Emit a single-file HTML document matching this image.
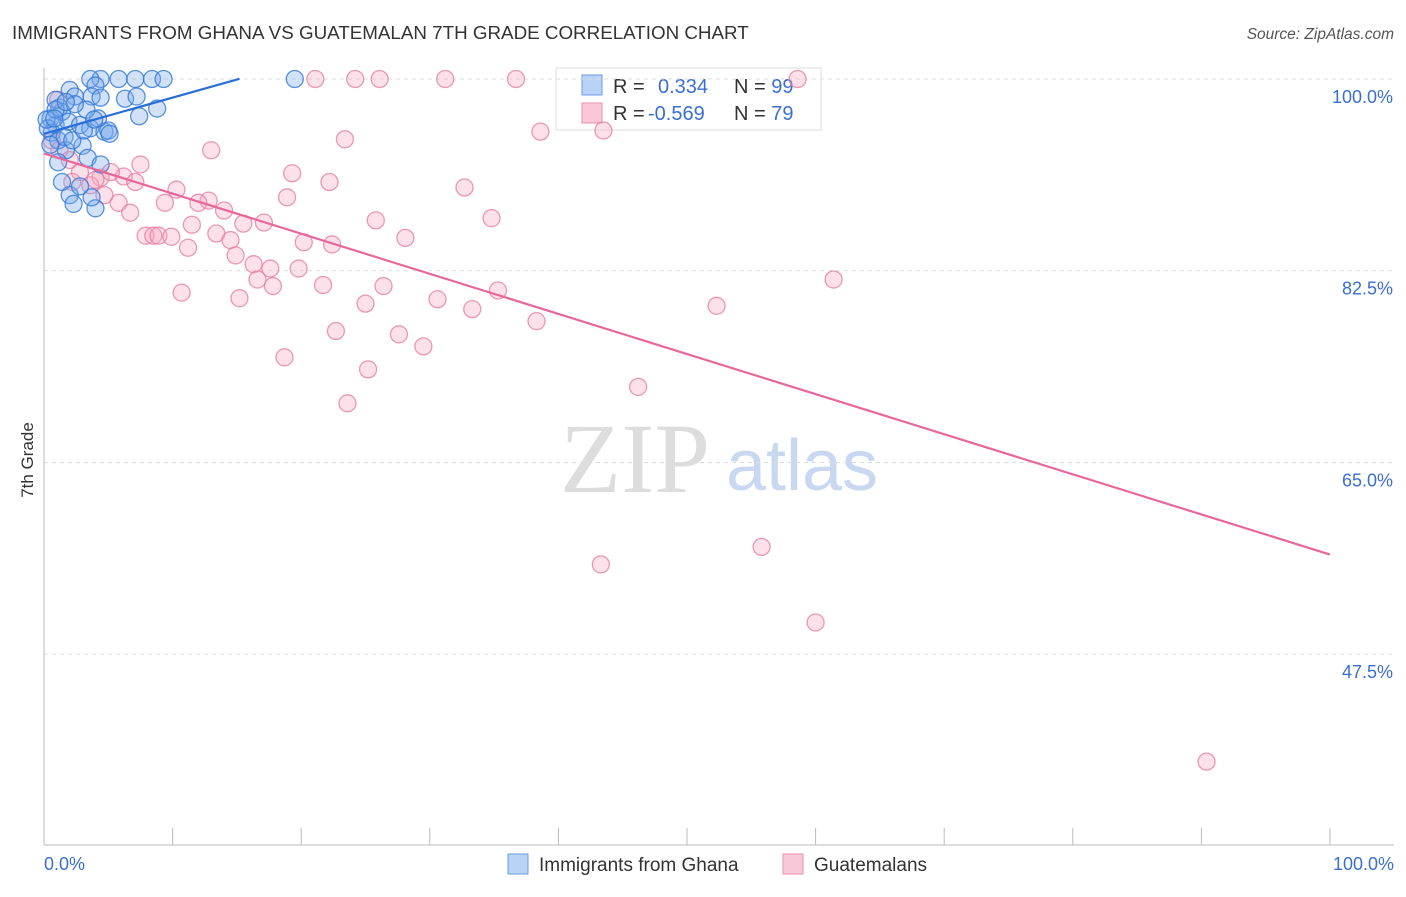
<!DOCTYPE html>
<html><head><meta charset="utf-8"><style>
body{margin:0;background:#fff;font-family:"Liberation Sans",sans-serif;}
</style></head><body>
<svg id="chart" width="1406" height="892" font-family="Liberation Sans, sans-serif">
<text x="12" y="39" font-size="18.8" fill="#333">IMMIGRANTS FROM GHANA VS GUATEMALAN 7TH GRADE CORRELATION CHART</text>
<text x="1394" y="39" font-size="15.5" fill="#555" font-style="italic" text-anchor="end">Source: ZipAtlas.com</text>
<text x="33" y="460" font-size="17" fill="#333" transform="rotate(-90 33 460)" text-anchor="middle">7th Grade</text>
<g><text x="635" y="492" font-size="100" fill="#ddd" text-anchor="middle" font-family="Liberation Serif, serif">ZIP</text><text x="802" y="490" font-size="72" fill="#c8d8f0" text-anchor="middle">atlas</text></g>
<g>
<rect x="556" y="68" width="265" height="62" fill="#fff" stroke="#ddd"/>
<rect x="582" y="75" width="20" height="20" fill="#b8d3f5" stroke="#6a9be0"/>
<rect x="582" y="103" width="20" height="20" fill="#f8c8d8" stroke="#e890b0"/>
<text x="613" y="93" font-size="20" fill="#333">R = <tspan fill="#3a6fd0" x="658">0.334</tspan><tspan fill="#333" x="734">N = </tspan><tspan fill="#3a6fd0">99</tspan></text>
<text x="613" y="120" font-size="20" fill="#333">R = <tspan fill="#3a6fd0" x="648">-0.569</tspan><tspan fill="#333" x="734">N = </tspan><tspan fill="#3a6fd0">79</tspan></text>
</g>
<g id="grid"></g><g id="pink"></g><g id="blue"></g><g id="lines"></g>
<g>
<rect x="508" y="854" width="20" height="20" fill="#b8d3f5" stroke="#6a9be0"/>
<text x="539" y="871" font-size="19" fill="#333">Immigrants from Ghana</text>
<rect x="783" y="854" width="20" height="20" fill="#f8c8d8" stroke="#e890b0"/>
<text x="814" y="871" font-size="19" fill="#333">Guatemalans</text>
</g>
<text x="44" y="870" font-size="18" fill="#3a6fd0">0.0%</text>
<text x="1394" y="870" font-size="18" fill="#3a6fd0" text-anchor="end">100.0%</text>
</svg>
<script>
const yTicks=[100,82.5,65,47.5];
const yTickLabels=["100.0%","82.5%","65.0%","47.5%"];
const blueX=[4.4,7.1,8.4,9.3,19.5,5.8,3.6,2.0,4.0,3.7,2.4,4.4,6.3,7.2,8.8,7.4,1.4,0.5,0.9,1.9,2.8,3.6,4.7,5.0,4.2,3.3,1.2,2.4,0.6,1.1,1.7,3.0,3.4,4.4,1.1,1.4,2.0,2.3,4.0,3.7,2.8,0.3,0.2,0.9,1.6,2.2,3.1,3.9,5.1,0.5,0.9,1.7,0.8];
const blueY=[100,100,100,100,100,100,100,99.0,99.4,98.4,98.4,98.3,98.2,98.4,97.3,96.6,97.0,96.4,95.8,96.1,95.8,95.5,95.2,95.3,96.4,97.2,97.4,97.7,95.1,94.4,93.5,93.9,92.8,92.2,92.4,90.6,89.4,88.6,88.2,89.2,90.2,95.5,96.3,98.1,94.7,94.4,95.3,96.3,95.0,94.0,97.2,97.9,96.4];
const pinkX=[21.1,24.2,26.1,31.2,36.7,58.6,38.6,43.5,23.4,13.0,19.3,7.5,22.2,32.7,10.3,6.2,4.4,5.2,7.1,18.9,12.8,12.0,14.0,9.4,5.8,6.7,25.8,34.8,17.1,15.5,11.5,13.4,14.5,7.9,8.5,8.9,9.9,20.2,22.4,28.1,11.2,14.9,16.3,17.6,19.8,16.6,17.8,21.7,26.4,35.3,10.7,15.2,25.0,30.6,33.3,22.7,27.6,38.3,52.3,61.4,18.7,29.5,25.2,46.2,23.6,43.3,55.8,60.0,90.4,1.1,0.6,1.2,2.0,2.8,3.6,4.7,2.2,4.0];
const pinkY=[100,100,100,100,100,100,95.2,95.3,94.5,93.5,91.4,92.2,90.6,90.1,89.9,91.1,91.0,91.5,90.6,89.2,88.9,88.7,88.0,88.7,88.7,87.8,87.1,87.3,86.9,86.8,86.7,85.9,85.3,85.7,85.7,85.7,85.6,85.1,84.9,85.5,84.6,83.9,83.1,82.7,82.7,81.7,81.1,81.2,81.1,80.7,80.5,80.0,79.5,79.9,79.0,77.0,76.7,77.9,79.3,81.7,74.6,75.6,73.5,71.9,70.4,55.7,57.3,50.4,37.7,98.1,94.4,93.5,92.6,91.5,90.3,89.4,90.6,90.8];
const blueTrend=[95.0,0.33,15.2];   // intercept, slope, x-end
const pinkTrend=[93.2,-0.366,100];
const NS="http://www.w3.org/2000/svg";
const X0=44,X1=1330,Y100=79,PXPER=10.957;
const sx=v=>X0+(X1-X0)*v/100, sy=v=>Y100+(100-v)*PXPER;
function mk(t,a,p){const e=document.createElementNS(NS,t);for(const k in a)e.setAttribute(k,a[k]);p.appendChild(e);return e;}
const grid=document.getElementById('grid');
yTicks.forEach((t,i)=>{
 const l=mk('line',{x1:X0,x2:1394,y1:sy(t),y2:sy(t),stroke:'#ddd','stroke-dasharray':'4,4'},grid);
 
 
 const tx=mk('text',{x:1393,y:sy(t)+24,'font-size':18,fill:'#3a6fd0','text-anchor':'end'},grid);
 tx.textContent=yTickLabels[i];
 
 
});
const ax=mk('line',{x1:X0,x2:X0,y1:68,y2:845,stroke:'#bbb'},grid);


const bx=mk('line',{x1:X0,x2:1394,y1:845,y2:845,stroke:'#bbb'},grid);


for(let i=0;i<=10;i++){const t=mk('line',{x1:sx(i*10),x2:sx(i*10),y1:828,y2:845,stroke:'#bbb'},grid);
 
 }
function pts(xs,ys,g,fill,stroke,name){const G=document.getElementById(g);
 xs.forEach((x,i)=>{const c=mk('circle',{cx:sx(x),cy:sy(ys[i]),r:8.5,fill:fill,stroke:stroke,'stroke-width':1.3},G);
 
 });}
pts(pinkX,pinkY,'pink','rgba(245,170,195,0.35)','rgba(230,120,160,0.75)','guatemalan-point');
pts(blueX,blueY,'blue','rgba(120,170,235,0.35)','rgba(50,120,215,0.8)','ghana-point');
const L=document.getElementById('lines');
const bl=mk('line',{x1:sx(0),y1:sy(blueTrend[0]),x2:sx(blueTrend[2]),y2:sy(blueTrend[0]+blueTrend[1]*blueTrend[2]),stroke:'#2a6fd6','stroke-width':2.2},L);


const pl=mk('line',{x1:sx(0),y1:sy(pinkTrend[0]),x2:sx(pinkTrend[2]),y2:sy(pinkTrend[0]+pinkTrend[1]*pinkTrend[2]),stroke:'#e8679a','stroke-width':2.2},L);


</script>
</body></html>
